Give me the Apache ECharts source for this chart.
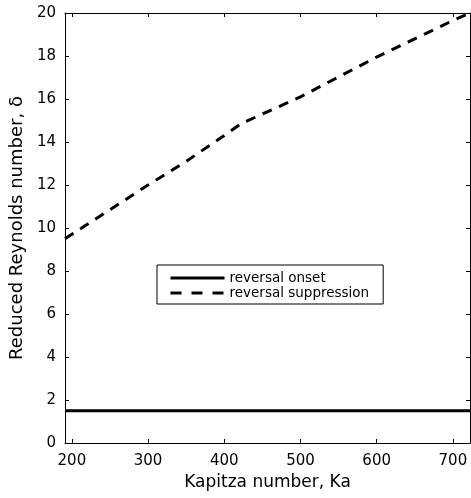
<!DOCTYPE html>
<html>
<head>
<meta charset="utf-8">
<script src="https://cdn.jsdelivr.net/npm/echarts@6/dist/echarts.min.js"></script>
<style>
html,body{margin:0;padding:0;background:#fff;}
#c{width:471px;height:498px;}
</style>
</head>
<body>
<div id="c"></div>
<script>
var xTicks = [200, 300, 400, 500, 600, 700];
var yTicks = [0, 2, 4, 6, 8, 10, 12, 14, 16, 18, 20];
var onsetKa = [191, 722.5];
var onsetDelta = [1.5, 1.5];
var suppKa = [191, 250, 300, 350, 400, 422, 500, 600, 700, 722.5];
var suppDelta = [9.5, 10.85, 12.0, 13.1, 14.3, 14.85, 16.1, 17.95, 19.65, 20.0];

function pairs(xs, ys){ return xs.map(function(x,i){ return [x, ys[i]]; }); }

var chart = echarts.init(document.getElementById('c'), null, {renderer:'canvas'});
var font = 'DejaVu Sans, Liberation Sans, Arial, sans-serif';
var axisLine = {show:true, onZero:false, lineStyle:{color:'#000', width:1}};
chart.setOption({
  animation:false,
  backgroundColor:'#fff',
  grid:{left:65, top:13, right:1, bottom:55, containLabel:false},
  legend:{
    left:157, top:265,
    orient:'vertical',
    backgroundColor:'#fff', borderColor:'#000', borderWidth:1,
    padding:[6,14,4,12], itemGap:1,
    itemWidth:54, itemHeight:12,
    itemStyle:{opacity:0},
    lineStyle:{width:3},
    textStyle:{fontFamily:font, fontSize:13.5, color:'#000', lineHeight:14, padding:[0,0,0,0]},
    data:[
      {name:'reversal onset', lineStyle:{type:'solid', width:3}},
      {name:'reversal suppression', lineStyle:{type:[11,10], width:3}}
    ]
  },
  xAxis:[{
    type:'value', min:191, max:722.5, position:'bottom',
    name:'Kapitza number, Ka', nameLocation:'middle', nameGap:26,
    nameTextStyle:{fontFamily:font, fontSize:17, color:'#000'},
    axisLine:axisLine, splitLine:{show:false},
    axisTick:{inside:true, length:4, lineStyle:{color:'#000'}, customValues:xTicks},
    axisLabel:{fontFamily:font, fontSize:15, color:'#000', margin:11, customValues:xTicks}
  },{
    type:'value', min:191, max:722.5, position:'top',
    axisLine:axisLine, splitLine:{show:false},
    axisTick:{inside:true, length:4, lineStyle:{color:'#000'}, customValues:xTicks},
    axisLabel:{show:false}
  }],
  yAxis:[{
    type:'value', min:0, max:20, interval:2, position:'left',
    name:'Reduced Reynolds number, \u03b4', nameLocation:'middle', nameGap:37,
    nameTextStyle:{fontFamily:font, fontSize:18, color:'#000'},
    axisLine:axisLine, splitLine:{show:false},
    axisTick:{inside:true, length:4, lineStyle:{color:'#000'}},
    axisLabel:{fontFamily:font, fontSize:15, color:'#000', margin:9, customValues:yTicks}
  },{
    type:'value', min:0, max:20, interval:2, position:'right',
    axisLine:axisLine, splitLine:{show:false},
    axisTick:{inside:true, length:4, lineStyle:{color:'#000'}},
    axisLabel:{show:false}
  }],
  series:[{
    name:'reversal onset', type:'line', symbol:'none',
    data:pairs(onsetKa, onsetDelta),
    lineStyle:{color:'#000', width:3, type:'solid'},
    itemStyle:{color:'#000'}
  },{
    name:'reversal suppression', type:'line', symbol:'none',
    data:pairs(suppKa, suppDelta),
    lineStyle:{color:'#000', width:3, type:[10,8]},
    itemStyle:{color:'#000'}
  }]
});
</script>
</body>
</html>
